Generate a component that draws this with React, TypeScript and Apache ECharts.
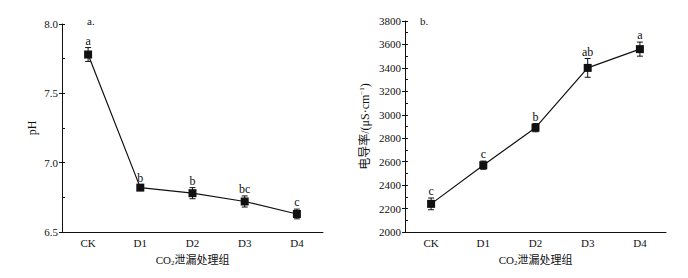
import React, { useEffect, useRef } from "react";
import * as echarts from "echarts";

const categories = ["CK", "D1", "D2", "D3", "D4"];
const phValues = [7.78, 6.82, 6.78, 6.72, 6.63];
const phErrors = [0.05, 0.02, 0.04, 0.04, 0.035];
const phLetters = ["a", "b", "b", "bc", "c"];
const ecValues = [2240, 2570, 2890, 3400, 3560];
const ecErrors = [50, 35, 35, 80, 60];
const ecLetters = ["c", "c", "b", "ab", "a"];

const FONT = "Liberation Serif, Noto Sans CJK SC, serif";
const INK = "#111111";

function errorSeries(xAxisIndex: number, yAxisIndex: number, values: number[], errors: number[], letters: string[]) {
  return {
    type: "custom",
    xAxisIndex,
    yAxisIndex,
    z: 5,
    silent: true,
    itemStyle: { color: INK },
    data: values.map((v, i) => [i, v, errors[i]]),
    renderItem: (params: any, api: any) => {
      const i = api.value(0);
      const v = api.value(1);
      const e = api.value(2);
      const letter = letters[params.dataIndex];
      const top = api.coord([i, v + e]);
      const bot = api.coord([i, v - e]);
      const cap = 3;
      const st = { stroke: INK, lineWidth: 1 };
      return {
        type: "group",
        children: [
          { type: "line", shape: { x1: top[0], y1: top[1], x2: bot[0], y2: bot[1] }, style: st },
          { type: "line", shape: { x1: top[0] - cap, y1: top[1], x2: top[0] + cap, y2: top[1] }, style: st },
          { type: "line", shape: { x1: bot[0] - cap, y1: bot[1], x2: bot[0] + cap, y2: bot[1] }, style: st },
          {
            type: "text",
            style: {
              text: letter,
              x: top[0],
              y: top[1] - 1,
              align: "center",
              verticalAlign: "bottom",
              font: "12px Liberation Serif, serif",
              fill: INK,
            },
          },
        ],
      };
    },
  };
}

function xAxisDef(gridIndex: number) {
  return {
    type: "category",
    gridIndex,
    data: categories,
    boundaryGap: true,
    axisLine: { lineStyle: { color: INK, width: 1 } },
    axisTick: { alignWithLabel: true, length: 4, lineStyle: { color: INK } },
    axisLabel: { color: INK, fontSize: 11, fontFamily: FONT, margin: 5 },
    splitLine: { show: false },
    name: "CO{sub|2}泄漏处理组",
    nameLocation: "middle",
    nameGap: 20,
    nameTextStyle: {
      color: INK,
      fontSize: 11,
      fontFamily: FONT,
      lineHeight: 14,
      verticalAlign: "middle",
      rich: { sub: { fontSize: 7, fontFamily: FONT, color: INK, verticalAlign: "bottom", lineHeight: 14 } },
    },
  };
}

export default function App() {
  const ref = useRef<HTMLDivElement>(null);
  useEffect(() => {
    if (!ref.current) return;
    const chart = echarts.init(ref.current, undefined, { renderer: "svg" });
    chart.setOption({
      animation: false,
      backgroundColor: "#fff",
      textStyle: { fontFamily: FONT, color: INK },
      grid: [
        { left: 62, top: 24, width: 261, height: 208 },
        { left: 405, top: 21, width: 261, height: 211 },
      ],
      xAxis: [xAxisDef(0), xAxisDef(1)],
      yAxis: [
        {
          type: "value",
          gridIndex: 0,
          position: "left",
          min: 6.5,
          max: 8.0,
          interval: 0.5,
          axisLine: { show: true, lineStyle: { color: INK } },
          axisTick: { show: true, length: 3, lineStyle: { color: INK } },
          axisLabel: { color: INK, fontSize: 11, fontFamily: FONT, margin: 4, formatter: (v: number) => v.toFixed(1) },
          splitLine: { show: false },
          name: "pH",
          nameLocation: "middle",
          nameRotate: 90,
          nameGap: 24,
          nameTextStyle: { color: INK, fontSize: 12, fontFamily: FONT },
        },
        {
          type: "value",
          gridIndex: 0,
          position: "left",
          min: 6.5,
          max: 8.0,
          interval: 0.25,
          axisLine: { show: false },
          axisTick: { show: true, inside: true, length: 3, lineStyle: { color: INK } },
          axisLabel: { show: false },
          splitLine: { show: false },
        },
        {
          type: "value",
          gridIndex: 1,
          position: "left",
          min: 2000,
          max: 3800,
          interval: 200,
          axisLine: { show: true, lineStyle: { color: INK } },
          axisTick: { show: true, length: 3, lineStyle: { color: INK } },
          axisLabel: { color: INK, fontSize: 11, fontFamily: FONT, margin: 4, formatter: (v: number) => String(v) },
          splitLine: { show: false },
          name: "电导率/(μS·cm{sup|−1})",
          nameLocation: "middle",
          nameRotate: 90,
          nameGap: 40,
          nameTextStyle: {
            color: INK,
            fontSize: 12,
            fontFamily: FONT,
            lineHeight: 14,
            verticalAlign: "middle",
            rich: { sup: { fontSize: 7, fontFamily: FONT, color: INK, verticalAlign: "top", lineHeight: 14 } },
          },
        },
        {
          type: "value",
          gridIndex: 1,
          position: "left",
          min: 2000,
          max: 3800,
          interval: 100,
          axisLine: { show: false },
          axisTick: { show: true, inside: true, length: 3, lineStyle: { color: INK } },
          axisLabel: { show: false },
          splitLine: { show: false },
        },
      ],
      graphic: [
        { type: "text", left: 87, top: 15, style: { text: "a.", font: "11px Liberation Serif, serif", fill: INK } },
        { type: "text", left: 420, top: 15, style: { text: "b.", font: "11px Liberation Serif, serif", fill: INK } },
      ],
      series: [
        {
          type: "line",
          xAxisIndex: 0,
          yAxisIndex: 0,
          data: phValues,
          symbol: "rect",
          symbolSize: 8,
          itemStyle: { color: INK },
          lineStyle: { color: INK, width: 1.2 },
          z: 4,
        },
        errorSeries(0, 0, phValues, phErrors, phLetters),
        {
          type: "line",
          xAxisIndex: 1,
          yAxisIndex: 2,
          data: ecValues,
          symbol: "rect",
          symbolSize: 8,
          itemStyle: { color: INK },
          lineStyle: { color: INK, width: 1.2 },
          z: 4,
        },
        errorSeries(1, 2, ecValues, ecErrors, ecLetters),
      ],
    });
    return () => chart.dispose();
  }, []);
  return (
    <div
      ref={ref}
      style={{ position: "fixed", left: 0, top: 0, width: 688, height: 278, background: "#fff" }}
    />
  );
}
